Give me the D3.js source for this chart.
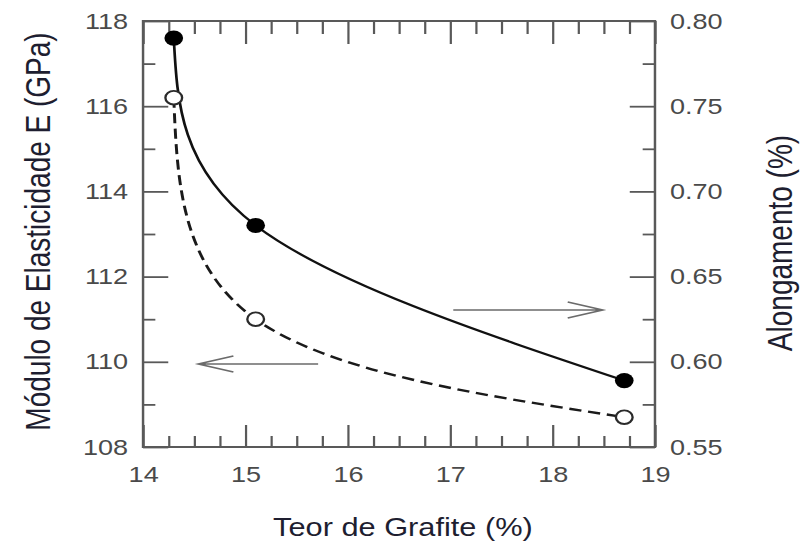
<!DOCTYPE html>
<html>
<head>
<meta charset="utf-8">
<script src="https://cdn.jsdelivr.net/npm/d3@7"></script>
<style>
  html, body { margin: 0; padding: 0; background: #fff; }
  svg { display: block; }
  text { font-family: "Liberation Sans", Arial, sans-serif; }
</style>
</head>
<body>
<svg id="chart" width="802" height="547"></svg>
<script>
// Graphite content (%) of the samples
const teor = [14.3, 15.1, 18.7];
// Elastic modulus E (GPa) — left axis, open markers, dashed curve
const modulo = [116.2, 111.0, 108.7];
// Elongation (%) — right axis, filled markers, solid curve
const alongamento = [0.79, 0.68, 0.589];

// Tick labels
const xTicks = [14, 15, 16, 17, 18, 19];
const yLeftTicks = [108, 110, 112, 114, 116, 118];
const yRightTicks = [0.55, 0.60, 0.65, 0.70, 0.75, 0.80];

// Arrows pointing each curve to its axis: [x0, x1, y]
const arrowModulo = [15.71, 14.54, 109.95];      // left axis units
const arrowAlongamento = [17.03, 18.49, 0.6304]; // right axis units

// The whole figure is drawn in a frame that is stretched horizontally
const SX = 1.23;
const frame = { left: 116.3, right: 532.5, top: 21, bottom: 447 };

const svg = d3.select("#chart");
const g = svg.append("g").attr("transform", `scale(${SX},1)`);

const x = d3.scaleLinear().domain([14, 19]).range([frame.left, frame.right]);
const yL = d3.scaleLinear().domain([108, 118]).range([frame.bottom, frame.top]);
const yR = d3.scaleLinear().domain([0.55, 0.80]).range([frame.bottom, frame.top]);

const axisColor = "#595959";
const labelColor = "#4a4a4a";
const titleColor = "#1e1e30";

const xMinor = d3.range(14, 19.001, 0.25).filter(v => Math.abs(v - Math.round(v)) > 1e-6);
const yLMinor = d3.range(109, 118, 2);
const yRMinor = d3.range(0.575, 0.80, 0.05);

function styleAxis(sel, size) {
  sel.select(".domain").remove();
  sel.selectAll("line").attr("stroke", axisColor).attr("stroke-width", 1.8);
  sel.selectAll("text")
    .attr("fill", labelColor)
    .attr("font-size", size)
    .attr("font-family", "'Liberation Sans', Arial, sans-serif");
}

// Bottom axis (major + minor, ticks inward)
g.append("g").attr("transform", `translate(0,${frame.bottom})`)
  .call(d3.axisBottom(x).tickValues(xTicks).tickSize(-22).tickPadding(19).tickFormat(d3.format("d")))
  .call(s => styleAxis(s, 22));
g.append("g").attr("transform", `translate(0,${frame.bottom})`)
  .call(d3.axisBottom(x).tickValues(xMinor).tickSize(-11).tickFormat(""))
  .call(s => styleAxis(s, 22));

// Top axis (ticks only)
g.append("g").attr("transform", `translate(0,${frame.top})`)
  .call(d3.axisTop(x).tickValues(xTicks).tickSize(-23).tickFormat(""))
  .call(s => styleAxis(s, 22));
g.append("g").attr("transform", `translate(0,${frame.top})`)
  .call(d3.axisTop(x).tickValues(xMinor).tickSize(-13).tickFormat(""))
  .call(s => styleAxis(s, 22));

// Left axis
g.append("g").attr("transform", `translate(${frame.left},0)`)
  .call(d3.axisLeft(yL).tickValues(yLeftTicks).tickSize(-20.5).tickPadding(12.2).tickFormat(d3.format("d")))
  .call(s => styleAxis(s, 22));
g.append("g").attr("transform", `translate(${frame.left},0)`)
  .call(d3.axisLeft(yL).tickValues(yLMinor).tickSize(-10).tickFormat(""))
  .call(s => styleAxis(s, 22));

// Right axis
g.append("g").attr("transform", `translate(${frame.right},0)`)
  .call(d3.axisRight(yR).tickValues(yRightTicks).tickSize(-20.5).tickPadding(12.2).tickFormat(d3.format(".2f")))
  .call(s => styleAxis(s, 22));
g.append("g").attr("transform", `translate(${frame.right},0)`)
  .call(d3.axisRight(yR).tickValues(yRMinor).tickSize(-10).tickFormat(""))
  .call(s => styleAxis(s, 22));

// Plot frame
g.append("rect")
  .attr("x", frame.left).attr("y", frame.top)
  .attr("width", frame.right - frame.left).attr("height", frame.bottom - frame.top)
  .attr("fill", "none").attr("stroke", axisColor).attr("stroke-width", 2);

// Smooth curves through the measured points
const lineL = d3.line().x((d, i) => x(teor[i])).y(d => yL(d)).curve(d3.curveNatural);
const lineR = d3.line().x((d, i) => x(teor[i])).y(d => yR(d)).curve(d3.curveNatural);

g.append("path").datum(modulo)
  .attr("d", lineL)
  .attr("fill", "none").attr("stroke", "#1a1a1a").attr("stroke-width", 2.4)
  .attr("stroke-dasharray", "10,5.5");

g.append("path").datum(alongamento)
  .attr("d", lineR)
  .attr("fill", "none").attr("stroke", "#111").attr("stroke-width", 2.2);

// Markers
g.selectAll("circle.mod").data(modulo).join("circle")
  .attr("class", "mod")
  .attr("cx", (d, i) => x(teor[i])).attr("cy", d => yL(d))
  .attr("r", 6.8)
  .attr("fill", "#fff").attr("stroke", "#2a2a2a").attr("stroke-width", 1.9);

g.selectAll("circle.along").data(alongamento).join("circle")
  .attr("class", "along")
  .attr("cx", (d, i) => x(teor[i])).attr("cy", d => yR(d))
  .attr("r", 7.6)
  .attr("fill", "#000");

// Arrows
function arrow(x0, x1, yPix) {
  const dir = Math.sign(x1 - x0);
  const tip = x(x1);
  const headLen = 28.5, headHalf = 8;
  g.append("path")
    .attr("d", `M${x(x0)},${yPix}L${tip},${yPix}M${tip - dir * headLen},${yPix - headHalf}L${tip},${yPix}L${tip - dir * headLen},${yPix + headHalf}`)
    .attr("fill", "none").attr("stroke", "#6b6b6b").attr("stroke-width", 1.6);
}
arrow(arrowModulo[0], arrowModulo[1], yL(arrowModulo[2]));
arrow(arrowAlongamento[0], arrowAlongamento[1], yR(arrowAlongamento[2]));

// Axis titles
g.append("text")
  .attr("x", 327.6).attr("y", 536.5)
  .attr("text-anchor", "middle")
  .attr("font-size", 25).attr("fill", titleColor)
  .text("Teor de Grafite (%)");

g.append("text")
  .attr("transform", `translate(40.7,231.5) rotate(-90)`)
  .attr("text-anchor", "middle")
  .attr("font-size", 28).attr("fill", titleColor)
  .text("Módulo de Elasticidade E (GPa)");

g.append("text")
  .attr("transform", `translate(643.5,243) rotate(-90)`)
  .attr("text-anchor", "middle")
  .attr("font-size", 28).attr("fill", titleColor)
  .text("Alongamento (%)");
</script>
</body>
</html>
